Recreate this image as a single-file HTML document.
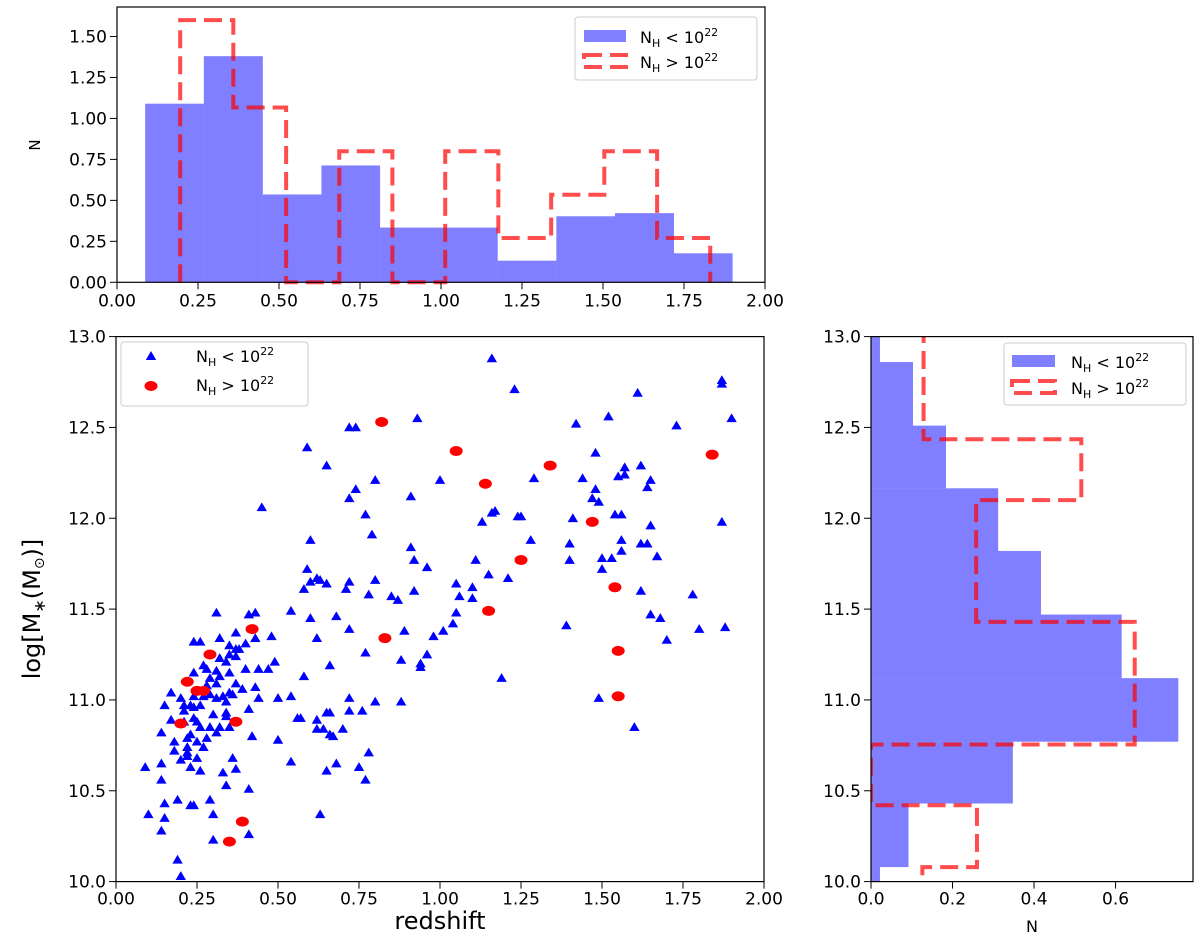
<!DOCTYPE html>
<html><head><meta charset="utf-8"><style>
html,body{margin:0;padding:0;background:#fff;}
svg text{font-family:"DejaVu Sans","Liberation Sans",sans-serif;fill:#000;}
</style></head><body>
<svg id="fig" width="1200" height="936" viewBox="0 0 1200 936" xmlns="http://www.w3.org/2000/svg"></svg>
<script>
// ---- data ----
const blueZ = [0.31,0.41,0.43,0.54,0.37,0.43,0.48,0.24,0.26,0.32,0.35,0.40,0.37,0.38,0.35,0.32,0.34,0.37,0.49,0.27,0.24,0.28,0.31,0.40,0.44,0.47,0.35,0.29,0.32,0.31,0.37,0.28,0.39,0.43,0.17,0.20,0.24,0.27,0.29,0.31,0.33,0.35,0.36,0.44,0.50,0.54,0.34,0.15,0.21,0.23,0.24,0.26,0.21,0.41,0.17,0.24,0.30,0.34,0.34,0.56,0.21,0.25,0.26,0.29,0.32,0.35,0.14,0.23,0.31,0.42,0.22,0.28,0.18,0.25,0.27,0.50,0.22,0.18,0.22,0.22,0.25,0.20,0.36,0.09,0.14,0.23,0.54,0.26,0.33,0.37,0.14,0.34,0.41,0.19,0.15,0.23,0.24,0.29,0.10,0.15,0.30,0.14,0.41,0.30,0.19,0.20,0.45,
1.16,1.23,0.93,0.72,0.74,0.59,0.65,0.80,1.00,0.74,0.72,0.91,0.77,1.13,1.16,1.17,1.24,0.60,0.79,0.91,0.92,0.96,1.11,0.59,0.62,0.63,0.60,0.58,0.65,0.72,0.71,0.80,0.78,0.85,0.87,0.92,1.05,1.06,1.10,1.10,1.15,1.21,0.60,0.68,0.72,0.62,0.89,0.98,1.01,1.05,1.04,0.77,0.96,0.66,0.88,0.94,0.94,0.58,1.19,0.72,0.80,0.88,0.57,0.62,0.65,0.66,0.72,0.76,0.62,0.64,0.70,0.66,0.67,0.78,0.68,0.65,0.75,0.77,0.63,
1.87,1.87,1.61,1.52,1.42,1.73,1.90,1.48,1.57,1.62,1.29,1.44,1.55,1.57,1.65,1.64,1.48,1.47,1.49,1.25,1.41,1.54,1.56,1.65,1.87,1.28,1.40,1.56,1.62,1.64,1.56,1.67,1.40,1.50,1.53,1.50,1.62,1.78,1.65,1.68,1.39,1.80,1.88,1.70,1.49,1.60];
const blueM = [11.48,11.47,11.48,11.49,11.37,11.34,11.35,11.32,11.32,11.34,11.30,11.31,11.28,11.28,11.25,11.23,11.21,11.24,11.21,11.19,11.15,11.17,11.16,11.17,11.17,11.17,11.15,11.12,11.13,11.09,11.09,11.08,11.06,11.07,11.04,11.01,11.02,11.02,11.03,11.01,11.02,11.04,11.03,11.01,11.01,11.02,10.99,10.97,10.97,10.97,10.96,10.97,10.94,10.95,10.89,10.90,10.92,10.93,10.91,10.90,10.88,10.88,10.85,10.85,10.85,10.85,10.82,10.81,10.82,10.80,10.79,10.79,10.77,10.77,10.74,10.78,10.74,10.72,10.71,10.69,10.68,10.67,10.68,10.63,10.65,10.63,10.66,10.61,10.60,10.62,10.56,10.53,10.51,10.45,10.43,10.42,10.42,10.45,10.37,10.35,10.37,10.28,10.26,10.23,10.12,10.03,12.06,
12.88,12.71,12.55,12.50,12.50,12.39,12.29,12.21,12.21,12.16,12.11,12.12,12.02,11.98,12.03,12.04,12.01,11.88,11.91,11.84,11.77,11.73,11.77,11.72,11.67,11.66,11.65,11.61,11.64,11.65,11.61,11.66,11.58,11.57,11.55,11.60,11.64,11.57,11.62,11.56,11.69,11.67,11.45,11.46,11.39,11.34,11.38,11.35,11.38,11.48,11.42,11.26,11.25,11.19,11.22,11.20,11.18,11.13,11.12,11.01,10.99,10.99,10.90,10.89,10.93,10.93,10.94,10.94,10.84,10.84,10.84,10.81,10.80,10.71,10.65,10.61,10.63,10.56,10.37,
12.74,12.76,12.69,12.56,12.52,12.51,12.55,12.36,12.28,12.29,12.22,12.22,12.23,12.24,12.21,12.17,12.16,12.11,12.09,12.01,12.00,12.02,12.02,11.96,11.98,11.88,11.86,11.88,11.86,11.86,11.82,11.79,11.77,11.78,11.78,11.72,11.60,11.58,11.47,11.45,11.41,11.39,11.40,11.33,11.01,10.85];
const redZ = [0.42,0.29,0.22,0.25,0.27,0.20,0.37,0.39,0.35,0.82,1.05,1.14,1.25,1.15,0.83,1.34,1.84,1.47,1.54,1.55,1.55];
const redM = [11.39,11.25,11.10,11.05,11.05,10.87,10.88,10.33,10.22,12.53,12.37,12.19,11.77,11.49,11.34,12.29,12.35,11.98,11.62,11.27,11.02];
// top histogram (redshift)
const zBlueEdges = [0.087,0.268,0.450,0.631,0.812,0.994,1.175,1.356,1.537,1.719,1.900];
const zBlueCounts = [1.09,1.38,0.536,0.713,0.334,0.334,0.132,0.403,0.422,0.177];
const zRedEdges = [0.195,0.359,0.522,0.686,0.850,1.013,1.177,1.340,1.504,1.667,1.831];
const zRedCounts = [1.60,1.067,0,0.80,0,0.80,0.27,0.534,0.80,0.27];
// right histogram (mass)
const mBlueEdges = [9.73,10.08,10.43,10.77,11.12,11.47,11.82,12.165,12.51,12.86,13.2];
const mBlueCounts = [0.022,0.092,0.348,0.754,0.615,0.417,0.312,0.184,0.103,0.022];
const mRedEdges = [9.745,10.08,10.42,10.755,11.09,11.43,11.765,12.10,12.435,12.77,13.1];
const mRedCounts = [0.126,0.26,0,0.647,0.647,0.258,0.258,0.516,0.129,0.129];
// ticks
const zTicks = ["0.00","0.25","0.50","0.75","1.00","1.25","1.50","1.75","2.00"];
const mTicks = ["10.0","10.5","11.0","11.5","12.0","12.5","13.0"];
const nTopTicks = ["0.00","0.25","0.50","0.75","1.00","1.25","1.50"];
const nRightTicks = ["0.0","0.2","0.4","0.6"];

const NS="http://www.w3.org/2000/svg";
const svg=document.getElementById('fig');
const FS=17, DASH='18,8';
function mk(tag,attrs,parent){const e=document.createElementNS(NS,tag);for(const k in attrs)e.setAttribute(k,attrs[k]);(parent||svg).appendChild(e);return e;}
function lin(d0,d1,p0,p1){return v=>p0+(v-d0)*(p1-p0)/(d1-d0);}

const M={l:116,r:764,t:336.6,b:881.6};
const T={l:117,r:765,t:7,b:282.3};
const R={l:871,r:1193,t:336.6,b:881.6};
const xz=lin(0,2,M.l,M.r), ym=lin(10,13,M.b,M.t);
const xzT=lin(0,2,T.l,T.r), yN=lin(0,1.68,T.b,T.t);
const xN=lin(0,0.79,R.l,R.r);

// ===== TOP HISTOGRAM =====
const gT=mk('g',{});


for(let i=0;i<zBlueCounts.length;i++){
  const x0=xzT(zBlueEdges[i]),x1=xzT(zBlueEdges[i+1]),y=yN(zBlueCounts[i]);
  const r=mk('rect',{x:x0,y:y,width:x1-x0,height:T.b-y,fill:'#0000ff','fill-opacity':0.5},gT);
  
  
}
{let d='M'+xzT(zRedEdges[0])+','+yN(0);
 for(let i=0;i<zRedCounts.length;i++){d+=' L'+xzT(zRedEdges[i])+','+yN(zRedCounts[i])+' L'+xzT(zRedEdges[i+1])+','+yN(zRedCounts[i]);}
 d+=' L'+xzT(zRedEdges[zRedEdges.length-1])+','+yN(0);
 const p=mk('path',{d:d,fill:'none',stroke:'#ff0000','stroke-opacity':0.7,'stroke-width':4,'stroke-dasharray':DASH},gT);
 
 }
mk('rect',{x:T.l,y:T.t,width:T.r-T.l,height:T.b-T.t,fill:'none',stroke:'#000','stroke-width':1.2},gT);
zTicks.forEach(t=>{const x=xzT(parseFloat(t));mk('line',{x1:x,x2:x,y1:T.b,y2:T.b+7,stroke:'#000'},gT);
 const tx=mk('text',{x:x,y:T.b+24,'text-anchor':'middle','font-size':FS},gT);tx.textContent=t;
 });
nTopTicks.forEach(t=>{const y=yN(parseFloat(t));mk('line',{x1:T.l-7,x2:T.l,y1:y,y2:y,stroke:'#000'},gT);
 const tx=mk('text',{x:T.l-10,y:y+6,'text-anchor':'end','font-size':FS},gT);tx.textContent=t;
 });

// ===== MAIN SCATTER =====
const gM=mk('g',{});


for(let i=0;i<blueZ.length;i++){
  const x=xz(blueZ[i]),y=ym(blueM[i]);
  const p=mk('path',{d:`M${x},${y-5} L${x+5.2},${y+3.8} L${x-5.2},${y+3.8} Z`,fill:'#0000ff'},gM);
  
  
}
for(let i=0;i<redZ.length;i++){
  const e=mk('ellipse',{cx:xz(redZ[i]),cy:ym(redM[i]),rx:6.5,ry:5,fill:'#ff0000'},gM);
  
  
}
mk('rect',{x:M.l,y:M.t,width:M.r-M.l,height:M.b-M.t,fill:'none',stroke:'#000','stroke-width':1.2},gM);
zTicks.forEach(t=>{const x=xz(parseFloat(t));mk('line',{x1:x,x2:x,y1:M.b,y2:M.b+7,stroke:'#000'},gM);
 const tx=mk('text',{x:x,y:M.b+23,'text-anchor':'middle','font-size':FS},gM);tx.textContent=t;
 });
mTicks.forEach(t=>{const y=ym(parseFloat(t));mk('line',{x1:M.l-7,x2:M.l,y1:y,y2:y,stroke:'#000'},gM);
 const tx=mk('text',{x:M.l-10,y:y+6,'text-anchor':'end','font-size':FS},gM);tx.textContent=t;
 });

// ===== RIGHT HISTOGRAM =====
const gR=mk('g',{});


const clipR=mk('clipPath',{id:'clipR'},gR);mk('rect',{x:R.l,y:R.t,width:R.r-R.l,height:R.b-R.t},clipR);
const gRc=mk('g',{'clip-path':'url(#clipR)'},gR);
for(let i=0;i<mBlueCounts.length;i++){
  const y0=ym(mBlueEdges[i+1]),y1=ym(mBlueEdges[i]);
  const r=mk('rect',{x:R.l,y:y0,width:xN(mBlueCounts[i])-R.l,height:y1-y0,fill:'#0000ff','fill-opacity':0.5},gRc);
  
  
}
{let d='M'+xN(0)+','+ym(mRedEdges[0]);
 for(let i=0;i<mRedCounts.length;i++){d+=' L'+xN(mRedCounts[i])+','+ym(mRedEdges[i])+' L'+xN(mRedCounts[i])+','+ym(mRedEdges[i+1]);}
 d+=' L'+xN(0)+','+ym(mRedEdges[mRedEdges.length-1]);
 const p=mk('path',{d:d,fill:'none',stroke:'#ff0000','stroke-opacity':0.7,'stroke-width':4,'stroke-dasharray':DASH},gRc);
 
 }
mk('rect',{x:R.l,y:R.t,width:R.r-R.l,height:R.b-R.t,fill:'none',stroke:'#000','stroke-width':1.2},gR);
nRightTicks.forEach(t=>{const x=xN(parseFloat(t));mk('line',{x1:x,x2:x,y1:R.b,y2:R.b+7,stroke:'#000'},gR);
 const tx=mk('text',{x:x,y:R.b+23,'text-anchor':'middle','font-size':FS},gR);tx.textContent=t;
 });
mTicks.forEach(t=>{const y=ym(parseFloat(t));mk('line',{x1:R.l-7,x2:R.l,y1:y,y2:y,stroke:'#000'},gR);
 const tx=mk('text',{x:R.l-10,y:y+6,'text-anchor':'end','font-size':FS},gR);tx.textContent=t;
 });
</script>
<svg style="position:absolute;left:0;top:0" width="1200" height="936" xmlns="http://www.w3.org/2000/svg">
  <text x="40" y="145" font-size="15" text-anchor="middle" transform="rotate(-90 40 145)">N</text>
  <text x="440" y="929" font-size="24" text-anchor="middle">redshift</text>
  <text x="40" y="609" font-size="24" text-anchor="middle" transform="rotate(-90 40 609)">log[M<tspan font-size="16" dy="5">∗</tspan><tspan dy="-5">(M</tspan><tspan font-size="14" dy="4">⊙</tspan><tspan dy="-4">)]</tspan></text>
  <text x="1032" y="932" font-size="16" text-anchor="middle">N</text>

  <g>
    <rect x="575" y="17" width="182" height="63" rx="3" fill="#fff" fill-opacity="0.8" stroke="#ccc"/>
    <rect x="584" y="30" width="42" height="12" fill="#0000ff" fill-opacity="0.5"/>
    <text x="640" y="43" font-size="16">N<tspan font-size="11" dy="4">H</tspan><tspan dy="-4"> &lt; 10</tspan><tspan font-size="11" dy="-7">22</tspan></text>
    <rect x="584" y="55" width="42" height="12" fill="none" stroke="#ff0000" stroke-opacity="0.7" stroke-width="4" stroke-dasharray="18,8"/>
    <text x="640" y="68" font-size="16">N<tspan font-size="11" dy="4">H</tspan><tspan dy="-4"> &gt; 10</tspan><tspan font-size="11" dy="-7">22</tspan></text>
  </g>
  <g>
    <rect x="121" y="342" width="187" height="64" rx="3" fill="#fff" fill-opacity="0.8" stroke="#ccc"/>
    <path d="M151,351 L156.2,360 L145.8,360 Z" fill="#0000ff"/>
    <text x="196" y="362" font-size="16">N<tspan font-size="11" dy="4">H</tspan><tspan dy="-4"> &lt; 10</tspan><tspan font-size="11" dy="-7">22</tspan></text>
    <ellipse cx="151" cy="386" rx="6.5" ry="5" fill="#ff0000"/>
    <text x="196" y="391" font-size="16">N<tspan font-size="11" dy="4">H</tspan><tspan dy="-4"> &gt; 10</tspan><tspan font-size="11" dy="-7">22</tspan></text>
  </g>
  <g>
    <rect x="1004" y="343" width="182" height="62" rx="3" fill="#fff" fill-opacity="0.8" stroke="#ccc"/>
    <rect x="1012" y="355" width="43" height="12" fill="#0000ff" fill-opacity="0.5"/>
    <text x="1071" y="368" font-size="16">N<tspan font-size="11" dy="4">H</tspan><tspan dy="-4"> &lt; 10</tspan><tspan font-size="11" dy="-7">22</tspan></text>
    <rect x="1012" y="381" width="43" height="12" fill="none" stroke="#ff0000" stroke-opacity="0.7" stroke-width="4" stroke-dasharray="18,8"/>
    <text x="1071" y="394" font-size="16">N<tspan font-size="11" dy="4">H</tspan><tspan dy="-4"> &gt; 10</tspan><tspan font-size="11" dy="-7">22</tspan></text>
  </g>
</svg>
</body></html>
